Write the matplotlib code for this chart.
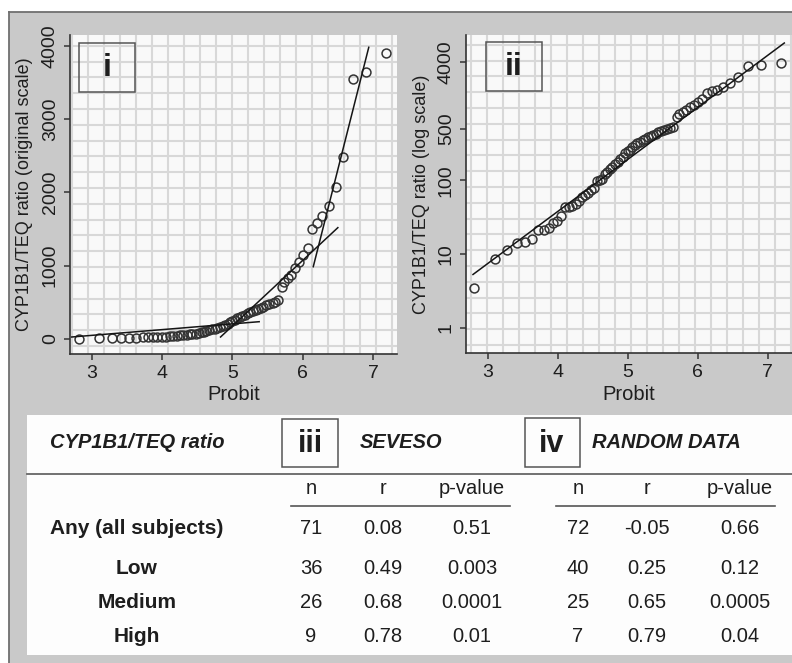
import matplotlib
matplotlib.use("Agg")
import matplotlib.pyplot as plt
from matplotlib.patches import Rectangle
import numpy as np

plt.rcParams['font.family'] = ['Liberation Sans', 'DejaVu Sans']

# ---------------- data ----------------
probit = [2.81, 3.10, 3.28, 3.42, 3.53, 3.63, 3.72, 3.80, 3.87, 3.93,
          3.99, 4.05, 4.11, 4.16, 4.21, 4.26, 4.30, 4.35, 4.39, 4.43,
          4.48, 4.52, 4.56, 4.60, 4.63, 4.67, 4.71, 4.75, 4.78, 4.82,
          4.86, 4.89, 4.93, 4.96, 5.00, 5.04, 5.07, 5.11, 5.14, 5.18,
          5.22, 5.25, 5.29, 5.33, 5.37, 5.40, 5.44, 5.48, 5.52, 5.57,
          5.61, 5.65, 5.70, 5.74, 5.79, 5.84, 5.89, 5.95, 6.01, 6.07,
          6.13, 6.20, 6.28, 6.37, 6.47, 6.58, 6.72, 6.90, 7.19]
ratio = [3.5, 8.6, 11.3, 14, 14.6, 16, 21, 21.5, 22.5, 26,
         28, 33, 43, 44, 45, 48, 53, 60, 64, 68,
         73, 78, 98, 101, 105, 120, 130, 142, 152, 165,
         178, 192, 208, 232, 246, 258, 280, 300, 315, 330,
         350, 365, 385, 400, 415, 425, 443, 460, 475, 495,
         510, 530, 710, 780, 830, 880, 970, 1050, 1150, 1240,
         1500, 1590, 1680, 1810, 2080, 2480, 3550, 3650, 3900]

# piecewise fitted lines in panel i (start/end probit, start/end value)
seg_x0 = [2.71, 4.83, 6.15]
seg_x1 = [5.38, 6.50, 6.94]
seg_y0 = [27, 27, 987]
seg_y1 = [236, 1520, 3982]
# log-scale fitted line in panel ii
log_fit_x = [2.79, 7.24]
log_fit_y = [5.3, 7190]

x_ticks = [3, 4, 5, 6, 7]
y_ticks_lin = [0, 1000, 2000, 3000, 4000]
y_ticks_log = [1, 10, 100, 500, 4000]

row_labels = ["Any (all subjects)", "Low", "Medium", "High"]
col_labels = ["n", "r", "p-value"]
sev_n = ["71", "36", "26", "9"]
sev_r = ["0.08", "0.49", "0.68", "0.78"]
sev_p = ["0.51", "0.003", "0.0001", "0.01"]
rnd_n = ["72", "40", "25", "7"]
rnd_r = ["-0.05", "0.25", "0.65", "0.79"]
rnd_p = ["0.66", "0.12", "0.0005", "0.04"]

# ---------------- layout ----------------
W, H = 792, 663
GRAY = '#c9c9c9'
INK = '#1e1e1e'
fig = plt.figure(figsize=(W / 100, H / 100), dpi=100)
fig.patch.set_facecolor('white')


def rect(l, t, r, b):
    return [l / W, 1 - b / H, (r - l) / W, (b - t) / H]


bg = fig.add_axes([0, 0, 1, 1], zorder=0)
bg.set_xlim(0, W)
bg.set_ylim(H, 0)
bg.axis('off')
bg.add_patch(Rectangle((9, 12), W - 9, H - 12, fc=GRAY, ec='none'))
bg.plot([9, 9], [12, H], color='#707070', lw=1.3)
bg.plot([9, W], [12, 12], color='#707070', lw=1.3)

# table panel
bg.add_patch(Rectangle((27, 415), W - 27, 240, fc='#fdfdfd', ec='none'))
bg.plot([27, W], [474, 474], color='#666666', lw=1.3)
bg.plot([291, 510], [506, 506], color='#555555', lw=1.2)
bg.plot([556, 775], [506, 506], color='#555555', lw=1.2)
bg.add_patch(Rectangle((282, 419), 56, 48, fc='none', ec='#555555', lw=1.1))
bg.add_patch(Rectangle((525, 418), 55, 49, fc='none', ec='#555555', lw=1.1))
bg.text(310, 444, "iii", fontsize=22, fontweight='bold', ha='center', va='center', color=INK)
bg.text(552, 444, "iv", fontsize=22, fontweight='bold', ha='center', va='center', color=INK)
bg.text(137, 443, "CYP1B1/TEQ ratio", fontsize=14.5, fontweight='bold', style='italic',
        ha='center', va='center', color=INK)
bg.text(360, 443, "SEVESO", fontsize=14.5, fontweight='bold', style='italic',
        ha='left', va='center', color=INK)
bg.text(592, 443, "RANDOM DATA", fontsize=14.5, fontweight='bold', style='italic',
        ha='left', va='center', color=INK)

sev_cols = [311, 383, 472]
rnd_cols = [578, 647, 740]
row_y = [529, 569, 603, 637]
for cx, lab in zip(sev_cols + rnd_cols, col_labels + col_labels):
    bg.text(cx, 489, lab, fontsize=14.5, ha='center', va='center', color=INK)
for i, lab in enumerate(row_labels):
    y = row_y[i]
    bg.text(137, y, lab, fontsize=15, fontweight='bold', ha='center', va='center', color=INK)
    for cx, val in zip(sev_cols + rnd_cols,
                       [sev_n[i], sev_r[i], sev_p[i], rnd_n[i], rnd_r[i], rnd_p[i]]):
        bg.text(cx, y, val, fontsize=14.5, ha='center', va='center', color=INK)


def paper(r, w, h, xoff, yoff):
    g = fig.add_axes(r, zorder=1)
    g.set_facecolor('#f9f9f9')
    g.set_xlim(0, w)
    g.set_ylim(0, h)
    g.set_xticks(np.arange(xoff, w, 16.0))
    g.set_yticks(np.arange(yoff, h, 15.8))
    g.tick_params(length=0, labelbottom=False, labelleft=False)
    g.grid(True, color='#d8d8d8', lw=1.5)
    for s in g.spines.values():
        s.set_visible(False)
    return g


def style(ax):
    for s in ['top', 'right']:
        ax.spines[s].set_visible(False)
    for s in ['left', 'bottom']:
        ax.spines[s].set_color('#333333')
        ax.spines[s].set_linewidth(1.2)
    ax.tick_params(direction='out', length=4, width=1.1, color='#333333',
                   labelsize=14, labelcolor=INK, pad=4)
    ax.set_facecolor('none')
    for t in ax.get_yticklabels():
        t.set_rotation(90)
        t.set_va('center')


MK = dict(mfc='none', mec='#333333', ms=6.4, mew=1.1)

# panel i
r1 = rect(70, 35, 397, 354)
paper(r1, 327, 319, 2, 8)
ax1 = fig.add_axes(r1, zorder=2)
ax1.plot(probit, ratio, 'o', **MK)
for a, b, c, d in zip(seg_x0, seg_x1, seg_y0, seg_y1):
    ax1.plot([a, b], [c, d], color='#151515', lw=1.1)
ax1.set_xlim(2.687, 7.342)
ax1.set_ylim(-205, 4150)
ax1.set_xticks(x_ticks)
ax1.set_yticks(y_ticks_lin)
style(ax1)
ax1.set_xlabel("Probit", fontsize=14.5, color=INK, va='center')
ax1.xaxis.set_label_coords(0.5, -0.128)
ax1.set_ylabel("CYP1B1/TEQ ratio (original scale)", fontsize=13, color=INK, va='center')
ax1.yaxis.set_label_coords(-0.138, 0.5)

# panel ii
r2 = rect(466, 35, 792, 353)
paper(r2, 326, 318, 5, 8)
ax2 = fig.add_axes(r2, zorder=2)
ax2.set_yscale('log')
ax2.plot(probit, ratio, 'o', **MK)
ax2.plot(log_fit_x, log_fit_y, color='#151515', lw=1.1)
ax2.set_xlim(2.69, 7.35)
ax2.set_ylim(0.459, 9226)
ax2.set_xticks(x_ticks)
ax2.set_yticks(y_ticks_log)
ax2.set_yticklabels([str(v) for v in y_ticks_log])
ax2.yaxis.set_minor_locator(matplotlib.ticker.NullLocator())
style(ax2)
ax2.set_xlabel("Probit", fontsize=14.5, color=INK, va='center')
ax2.xaxis.set_label_coords(0.5, -0.132)
ax2.set_ylabel("CYP1B1/TEQ ratio (log scale)", fontsize=13, color=INK, va='center')
ax2.yaxis.set_label_coords(-0.135, 0.5)

# panel label boxes
fg = fig.add_axes([0, 0, 1, 1], zorder=5)
fg.set_xlim(0, W)
fg.set_ylim(H, 0)
fg.axis('off')
fg.patch.set_alpha(0)
fg.add_patch(Rectangle((79, 43), 56, 49, fc='none', ec='#555555', lw=1.1))
fg.add_patch(Rectangle((486, 42), 56, 49, fc='none', ec='#555555', lw=1.1))
fg.text(107, 68, "i", fontsize=23, fontweight='bold', ha='center', va='center', color=INK)
fg.text(514, 67, "ii", fontsize=23, fontweight='bold', ha='center', va='center', color=INK)

fig.savefig("out.png", dpi=100)
